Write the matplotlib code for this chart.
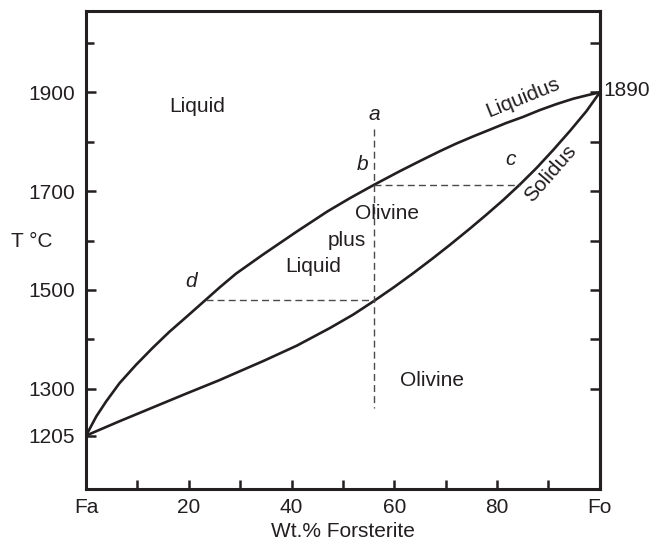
import matplotlib.pyplot as plt

plt.rcParams['font.family'] = ['Liberation Sans', 'DejaVu Sans']

# liquidus and solidus of the olivine binary
fo_liquidus = [0, 2.0, 3.9, 6.5, 9.7, 13.0, 16.2, 19.5, 23.3, 26.0, 29.2, 34.5,
               41.0, 47.0, 51.4, 56.1, 61.0, 65.0, 68.9, 72.0, 75.4, 78.5,
               81.8, 85.0, 88.3, 91.5, 94.8, 97.5, 100]
t_liquidus = [1205, 1244, 1274, 1311, 1348, 1383, 1415, 1445, 1480, 1505, 1533, 1572,
              1618, 1659, 1686, 1713, 1740, 1761, 1781, 1796, 1811, 1824,
              1838, 1850, 1864, 1876, 1887, 1894, 1900]

fo_solidus = [0, 6.5, 13.0, 19.5, 25.9, 29.2, 34.5, 41.0, 47.5, 52.0, 56.1, 60.0,
              63.7, 67.5, 70.8, 74.7, 78.0, 81.2, 84.4, 87.7, 90.9, 94.2, 97.4, 100]
t_solidus = [1205, 1234, 1262, 1290, 1317, 1332, 1356, 1387, 1423, 1450, 1478, 1506,
             1534, 1564, 1591, 1624, 1653, 1682, 1713, 1747, 1783, 1822, 1862, 1900]

# cooling path of the bulk composition (a -> b -> d) and tie lines
bulk_fo = 56.1
path_t = [1825, 1260]
tie_b = ([56.1, 84.4], [1713, 1713])   # b -> c
tie_d = ([23.3, 56.1], [1479, 1479])   # d -> bulk

x_ticks = [0, 20, 40, 60, 80, 100]
x_labels = ['Fa', '20', '40', '60', '80', 'Fo']
x_minor = [10, 30, 50, 70, 90]
y_ticks = [1205, 1300, 1500, 1700, 1900]
y_minor = [1400, 1600, 1800, 2000]
y_right = [1300, 1400, 1500, 1600, 1700, 1800, 1900, 2000]

ink = '#231f20'
dash = '#4a4a4a'
fs = 15

fig = plt.figure(figsize=(6.52, 5.42), dpi=100)
ax = fig.add_axes([0.132, 0.097, 0.788, 0.883])

ax.plot(fo_liquidus, t_liquidus, color=ink, lw=1.9, solid_joinstyle='round')
ax.plot(fo_solidus, t_solidus, color=ink, lw=1.9, solid_joinstyle='round')

ax.plot([bulk_fo, bulk_fo], path_t, color=dash, lw=1.0, dashes=(5, 3))
ax.plot(tie_b[0], tie_b[1], color=dash, lw=1.0, dashes=(5, 3))
ax.plot(tie_d[0], tie_d[1], color=dash, lw=1.0, dashes=(5, 3))

ax.set_xlim(0, 100)
ax.set_ylim(1096, 2065)

ax.set_xticks(x_ticks)
ax.set_xticklabels(x_labels)
ax.set_xticks(x_minor, minor=True)
ax.set_yticks(y_ticks)
ax.set_yticks(y_minor, minor=True)

ax.tick_params(axis='both', which='both', direction='in', width=1.8, color=ink,
               labelsize=fs, labelcolor=ink)
ax.tick_params(axis='y', which='major', length=7.5, pad=8)
ax.tick_params(axis='y', which='minor', length=5.8)
ax.tick_params(axis='x', which='both', length=6.8, pad=6)

for s in ax.spines.values():
    s.set_linewidth(2.2)
    s.set_color(ink)

right = ax.secondary_yaxis('right')
right.set_yticks(y_right)
right.set_yticklabels([])
right.tick_params(direction='in', length=7.2, width=1.8, color=ink)
right.spines['right'].set_linewidth(2.2)
right.spines['right'].set_color(ink)

ax.set_xlabel('Wt.% Forsterite', fontsize=fs, color=ink, labelpad=4)
fig.text(0.049, 0.554, 'T °C', fontsize=fs, color=ink, ha='center', va='center')

txt = dict(fontsize=fs, color=ink, ha='center', va='center')
ax.text(21.7, 1872, 'Liquid', **txt)
ax.text(58.5, 1654, 'Olivine', **txt)
ax.text(50.8, 1601, 'plus', **txt)
ax.text(44.2, 1547, 'Liquid', **txt)
ax.text(67.4, 1317, 'Olivine', **txt)
ax.text(56.2, 1855, 'a', style='italic', **txt)
ax.text(53.9, 1753, 'b', style='italic', **txt)
ax.text(82.6, 1765, 'c', style='italic', **txt)
ax.text(20.4, 1517, 'd', style='italic', **txt)
ax.text(85.1, 1890, 'Liquidus', rotation=22, **txt)
ax.text(90.3, 1736, 'Solidus', rotation=49, **txt)
ax.text(100.6, 1903, '1890', fontsize=fs, color=ink, ha='left', va='center',
        clip_on=False)

fig.savefig('out.png', dpi=100)
